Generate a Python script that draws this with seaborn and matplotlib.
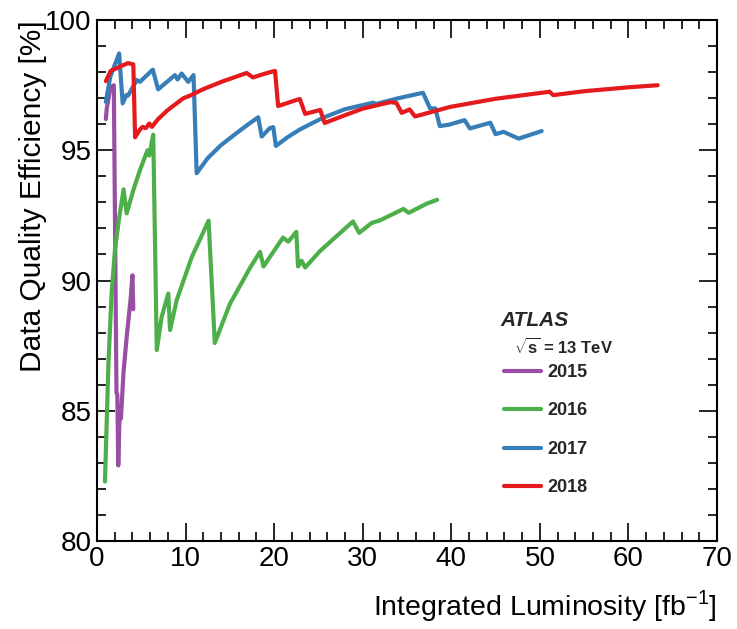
import matplotlib
matplotlib.use("Agg")
import matplotlib.pyplot as plt
import seaborn as sns
import pandas as pd
from matplotlib.ticker import MultipleLocator

# Cumulative data-quality efficiency vs integrated luminosity, per year
lumi_2015 = [1.0, 1.1, 1.5, 1.9, 2.2, 2.3, 2.4, 2.55, 2.7, 3.0, 3.4, 3.8, 4.0, 4.1]
eff_2015 = [96.2, 96.6, 97.4, 97.5, 85.7, 85.6, 82.9, 84.9, 84.7, 86.5, 88.0, 89.3, 90.2, 88.9]

lumi_2016 = [0.9, 1.3, 1.65, 2.03, 2.5, 3.0, 3.35, 4.1, 4.85, 5.7, 5.9, 6.35, 6.75, 7.3,
             8.05, 8.25, 9.0, 10.7, 12.6, 13.3, 15.0, 17.3, 18.4, 18.8, 21.0, 21.6, 22.5,
             22.7, 23.1, 23.5, 25.2, 28.9, 29.6, 31.0, 31.95, 34.6, 35.2, 37.2, 38.4]
eff_2016 = [82.28, 86.9, 89.5, 91.2, 92.4, 93.5, 92.58, 93.47, 94.24, 95.0, 94.8, 95.6,
            87.33, 88.6, 89.5, 88.1, 89.25, 90.9, 92.3, 87.6, 89.1, 90.5, 91.1, 90.54,
            91.65, 91.49, 91.87, 90.54, 90.76, 90.5, 91.14, 92.27, 91.83, 92.21, 92.31,
            92.75, 92.6, 92.95, 93.1]

lumi_2017 = [1.0, 1.5, 2.5, 2.9, 3.3, 3.5, 4.5, 4.85, 6.3, 6.9, 8.8, 9.1, 9.55, 10.3,
             10.9, 11.25, 12.5, 14.0, 15.75, 17.0, 18.2, 18.6, 19.5, 19.9, 20.2, 21.5,
             22.9, 25.5, 28.0, 31.2, 31.5, 34.0, 36.8, 37.6, 38.2, 38.7, 39.8, 41.5,
             42.1, 44.4, 45.0, 45.9, 47.6, 50.2]
eff_2017 = [96.86, 97.83, 98.72, 96.8, 97.12, 97.1, 97.7, 97.63, 98.1, 97.34, 97.89,
            97.72, 97.95, 97.63, 97.89, 94.12, 94.7, 95.2, 95.66, 95.98, 96.27, 95.53,
            95.85, 95.89, 95.17, 95.5, 95.8, 96.25, 96.58, 96.83, 96.78, 97.0, 97.21,
            96.61, 96.61, 95.93, 95.99, 96.16, 95.84, 96.06, 95.62, 95.71, 95.45, 95.74]

lumi_2018 = [1.0, 1.55, 2.2, 2.5, 3.5, 4.1, 4.3, 4.85, 5.15, 5.5, 5.9, 6.2, 6.9, 8.0,
             9.75, 10.5, 12.0, 14.2, 16.9, 17.6, 19.5, 20.1, 20.45, 22.5, 22.9, 23.5,
             25.2, 25.7, 28.0, 30.0, 33.1, 33.8, 34.4, 35.3, 35.9, 39.9, 45.0, 51.1,
             51.5, 55.0, 60.0, 63.3]
eff_2018 = [97.66, 98.05, 98.15, 98.2, 98.35, 98.3, 95.5, 95.8, 95.9, 95.85, 96.03,
            95.9, 96.2, 96.55, 97.0, 97.1, 97.35, 97.65, 97.97, 97.8, 98.0, 98.05, 96.7,
            96.93, 96.97, 96.4, 96.55, 96.05, 96.35, 96.6, 96.85, 96.82, 96.44, 96.57,
            96.3, 96.67, 96.98, 97.25, 97.12, 97.27, 97.42, 97.5]

years = ["2015", "2016", "2017", "2018"]
colors = {"2015": "#984ea3", "2016": "#4daf4a", "2017": "#377eb8", "2018": "#e41a1c"}

frames = []
for yr, lx, ly in zip(years, [lumi_2015, lumi_2016, lumi_2017, lumi_2018],
                      [eff_2015, eff_2016, eff_2017, eff_2018]):
    frames.append(pd.DataFrame({"lumi": lx, "eff": ly, "year": yr}))
df = pd.concat(frames, ignore_index=True)

sns.set_theme(style="white")
plt.rcParams["font.family"] = ["Liberation Sans", "DejaVu Sans"]
plt.rcParams["mathtext.fontset"] = "custom"
plt.rcParams["mathtext.rm"] = "Liberation Sans"
plt.rcParams["mathtext.bf"] = "Liberation Sans:bold"

fig = plt.figure(figsize=(7.37, 6.29), dpi=100)
ax = fig.add_axes([0.1316, 0.140, 0.8413, 0.828])

sns.lineplot(data=df, x="lumi", y="eff", hue="year", palette=colors,
             estimator=None, sort=False, linewidth=3, ax=ax, legend=True)

ax.set_xlim(0, 70)
ax.set_ylim(80, 100)
ax.xaxis.set_major_locator(MultipleLocator(10))
ax.xaxis.set_minor_locator(MultipleLocator(2))
ax.yaxis.set_major_locator(MultipleLocator(5))
ax.yaxis.set_minor_locator(MultipleLocator(1))

for s in ax.spines.values():
    s.set_color("black")
    s.set_linewidth(1.5)

ax.tick_params(which="both", direction="in", top=True, right=True,
               bottom=True, left=True, color="black", width=1.2)
ax.tick_params(which="major", length=13, labelsize=20, pad=4, labelcolor="black")
ax.tick_params(which="minor", length=6.5)

ax.set_xlabel(r"Integrated Luminosity [fb$^{-1}$]", fontsize=20.5, loc="right", color="black")
ax.set_ylabel("Data Quality Efficiency [%]", fontsize=21.5, loc="top", color="black")
ax.xaxis.set_label_coords(1.0, -0.09)
ax.yaxis.set_label_coords(-0.08, 1.0)

handles, labels = ax.get_legend_handles_labels()
leg = ax.legend(handles, labels, loc="upper left", bbox_to_anchor=(0.631, 0.371),
                frameon=False, handlelength=2.0, handletextpad=0.4, borderpad=0.4,
                labelspacing=1.19,
                prop={"family": "Liberation Sans", "weight": "bold", "size": 13})
for line in leg.get_lines():
    line.set_linewidth(3)

fig.text(500 / 737, 1 - 320 / 629, "ATLAS", fontsize=15, fontweight="bold",
         fontstyle="italic", family="Liberation Sans", va="center", ha="left")
fig.text(514 / 737, 1 - 347 / 629, r"$\sqrt{\mathbf{s}}$ = 13 TeV", fontsize=12,
         fontweight="bold", family="Liberation Sans", va="center", ha="left")

fig.savefig("out.png", dpi=100)
